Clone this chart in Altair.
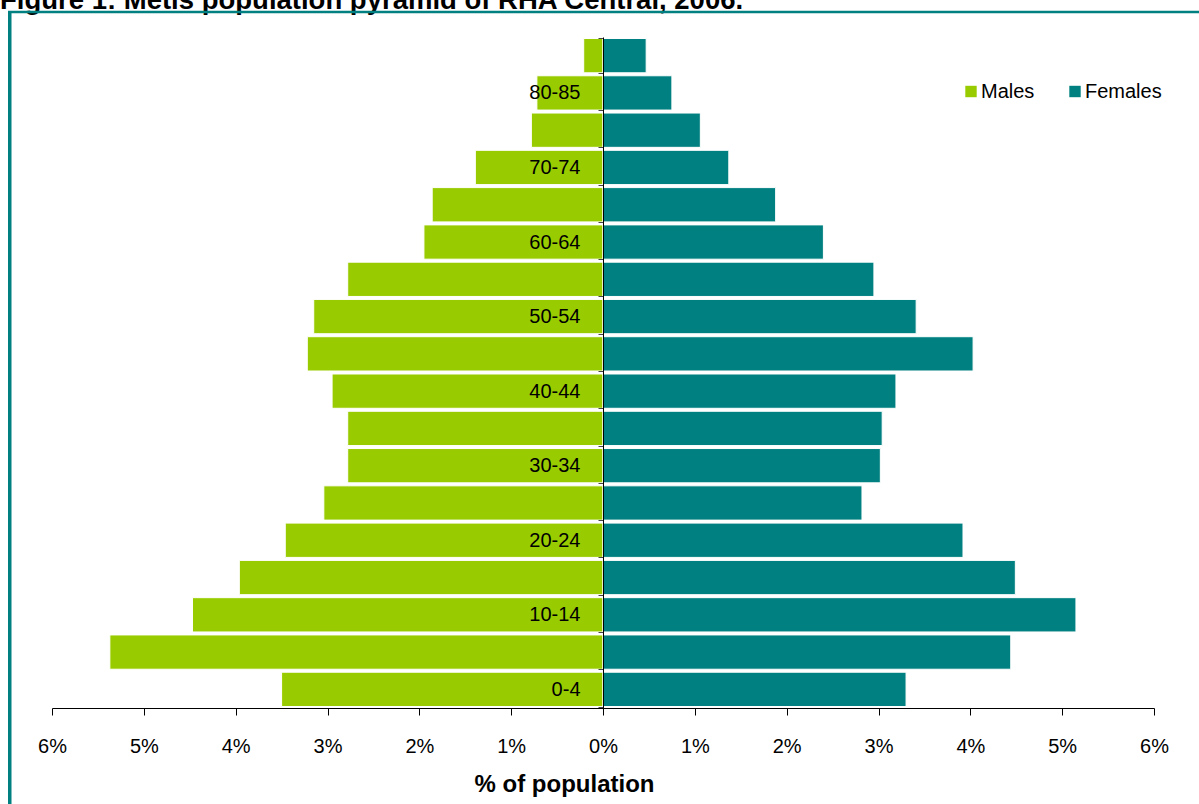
import json
import altair as alt
import pandas as pd

TITLE = "Figure 1: Metis population pyramid of RHA Central, 2006."

ages = ['85+', '80-85', '75-79', '70-74', '65-69', '60-64', '55-59', '50-54', '45-49',
        '40-44', '35-39', '30-34', '25-29', '20-24', '15-19', '10-14', '5-9', '0-4']
males = [0.21, 0.72, 0.78, 1.39, 1.86, 1.95, 2.78, 3.15, 3.22,
         2.95, 2.78, 2.78, 3.04, 3.46, 3.96, 4.47, 5.37, 3.50]
females = [0.47, 0.75, 1.06, 1.37, 1.88, 2.40, 2.95, 3.41, 4.03,
           3.19, 3.04, 3.02, 2.82, 3.92, 4.49, 5.15, 4.44, 3.30]
labeled_ages = ['0-4', '10-14', '20-24', '30-34', '40-44', '50-54', '60-64', '70-74', '80-85']
x_ticks = list(range(-6, 7))
sexes = ['Males', 'Females']
colors = ['#99CC00', '#008080']

FONT = "Liberation Sans"

df = pd.DataFrame({
    'age': ages + ages,
    'sex': ['Males'] * len(ages) + ['Females'] * len(ages),
    'pct': [-v for v in males] + females,
})

label_expr = "indexof(" + json.dumps(labeled_ages) + ", datum.value) >= 0 ? datum.value : ''"

bars = alt.Chart(df).mark_bar(stroke='white', strokeWidth=1).encode(
    y=alt.Y('age:N', sort=ages,
            scale=alt.Scale(paddingInner=0.08, paddingOuter=0.04),
            axis=alt.Axis(orient='left', offset=-551, title=None,
                          domainColor='black', domainWidth=1,
                          tickBand='extent', tickSize=5, tickColor='#444',
                          labelFontSize=20, labelFont=FONT, labelColor='black',
                          labelPadding=18, labelExpr=label_expr, grid=False,
                          zindex=1)),
    x=alt.X('pct:Q', stack=None,
            scale=alt.Scale(domain=[-6, 6], nice=False),
            axis=alt.Axis(values=x_ticks, labelExpr="abs(datum.value) + '%'",
                          labelFlush=False,
                          title='% of population', titleFontSize=24, titleFont=FONT,
                          titleFontWeight='bold', titleColor='black', titlePadding=16,
                          titleX=512, titleAlign='center',
                          domainColor='black', domainWidth=1, tickColor='black',
                          tickSize=7, labelFontSize=20, labelFont=FONT,
                          labelColor='black', labelPadding=21, grid=False, zindex=1)),
    color=alt.Color('sex:N', sort=sexes,
                    scale=alt.Scale(domain=sexes, range=colors),
                    legend=alt.Legend(orient='none', legendX=909, legendY=44.5,
                                      direction='horizontal', title=None,
                                      symbolType='square', symbolSize=130,
                                      symbolStrokeWidth=0, labelFontSize=20,
                                      labelFont=FONT, labelColor='black',
                                      labelOffset=0, columnPadding=30, padding=0)),
)

title_df = pd.DataFrame({'t': [TITLE]})
title = alt.Chart(title_df).mark_text(
    align='left', baseline='alphabetic', fontSize=27.5, fontWeight='bold',
    font=FONT, color='black'
).encode(text='t:N', x=alt.value(-52), y=alt.value(9 - 37))

border_df = pd.DataFrame({'k': [0]})
left_border = alt.Chart(border_df).mark_rule(color='#008080', strokeWidth=3.5).encode(
    x=alt.value(9.75 - 52), y=alt.value(11 - 37), y2=alt.value(804 - 37 + 5))
top_border = alt.Chart(border_df).mark_rule(color='#008080', strokeWidth=2.5).encode(
    x=alt.value(8 - 52), x2=alt.value(1199 - 52 + 5), y=alt.value(12 - 37))

chart = alt.layer(bars, title, left_border, top_border).properties(
    width=1102, height=671,
    autosize=alt.AutoSizeParams(type='none'),
    padding={'left': 52, 'top': 37, 'right': 45, 'bottom': 96},
    background='white',
).configure_view(stroke=None)

chart.save("out.html", embed_options={"renderer": "svg", "actions": False})
